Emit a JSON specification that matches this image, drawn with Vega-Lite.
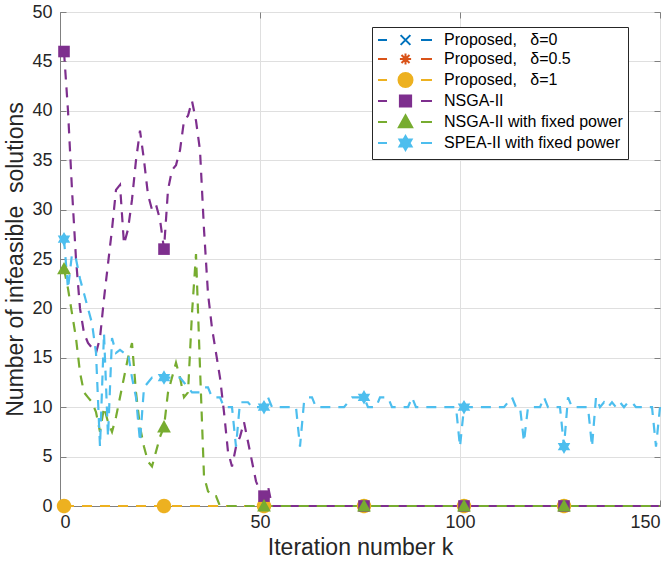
{
  "$schema": "https://vega.github.io/schema/vega-lite/v6.json",
  "width": 600,
  "height": 494,
  "autosize": {"type": "none"},
  "padding": {"left": 60, "top": 12, "right": 10, "bottom": 60},
  "background": "#ffffff",
  "config": {
    "view": {"stroke": "#808080", "strokeWidth": 1},
    "axis": {"labelFont": "Liberation Sans", "titleFont": "Liberation Sans", "labelColor": "#262626", "titleColor": "#262626", "titleFontWeight": "normal", "domainColor": "#808080", "tickColor": "#808080", "gridColor": "#dfdfdf", "gridWidth": 1}
  },
  "datasets": {
    "d": [
      {"s":"P0","k":1,"v":0},{"s":"P0","k":26,"v":0},{"s":"P0","k":51,"v":0},{"s":"P0","k":76,"v":0},{"s":"P0","k":101,"v":0},{"s":"P0","k":126,"v":0},{"s":"P0","k":150,"v":0},
      {"s":"P05","k":1,"v":0},{"s":"P05","k":26,"v":0},{"s":"P05","k":51,"v":0},{"s":"P05","k":76,"v":0},{"s":"P05","k":101,"v":0},{"s":"P05","k":126,"v":0},{"s":"P05","k":150,"v":0},
      {"s":"P1","k":1,"v":0},{"s":"P1","k":26,"v":0},{"s":"P1","k":51,"v":0},{"s":"P1","k":76,"v":0},{"s":"P1","k":101,"v":0},{"s":"P1","k":126,"v":0},{"s":"P1","k":150,"v":0},
      {"s":"N","k":1,"v":46},{"s":"N","k":2,"v":40},{"s":"N","k":3,"v":32},{"s":"N","k":4,"v":25},{"s":"N","k":5,"v":20},{"s":"N","k":6,"v":17.5},{"s":"N","k":7,"v":16.5},{"s":"N","k":8,"v":16},{"s":"N","k":9,"v":15.5},{"s":"N","k":10,"v":17},
      {"s":"N","k":11,"v":21},{"s":"N","k":12,"v":24.5},{"s":"N","k":13,"v":28},{"s":"N","k":14,"v":32},{"s":"N","k":15,"v":32.5},{"s":"N","k":16,"v":26.5},{"s":"N","k":17,"v":28},{"s":"N","k":18,"v":31},{"s":"N","k":19,"v":35},{"s":"N","k":20,"v":38},
      {"s":"N","k":21,"v":35},{"s":"N","k":22,"v":31.5},{"s":"N","k":23,"v":30},{"s":"N","k":24,"v":30.5},{"s":"N","k":25,"v":29},{"s":"N","k":26,"v":26},{"s":"N","k":27,"v":32},{"s":"N","k":28,"v":34},{"s":"N","k":29,"v":34.5},{"s":"N","k":30,"v":36},
      {"s":"N","k":31,"v":39},{"s":"N","k":32,"v":39.5},{"s":"N","k":33,"v":41},{"s":"N","k":34,"v":39},{"s":"N","k":35,"v":36},{"s":"N","k":36,"v":28},{"s":"N","k":37,"v":21.5},{"s":"N","k":38,"v":18},{"s":"N","k":39,"v":15.5},{"s":"N","k":40,"v":13},
      {"s":"N","k":41,"v":9.5},{"s":"N","k":42,"v":5.5},{"s":"N","k":43,"v":4},{"s":"N","k":44,"v":6},{"s":"N","k":45,"v":7},{"s":"N","k":46,"v":8.5},{"s":"N","k":47,"v":6.5},{"s":"N","k":48,"v":4.5},{"s":"N","k":49,"v":2.5},{"s":"N","k":50,"v":1.5},
      {"s":"N","k":51,"v":1},{"s":"N","k":52,"v":2},{"s":"N","k":53,"v":0},{"s":"N","k":76,"v":0},{"s":"N","k":101,"v":0},{"s":"N","k":126,"v":0},{"s":"N","k":150,"v":0},
      {"s":"NF","k":1,"v":24},{"s":"NF","k":2,"v":22},{"s":"NF","k":3,"v":19.5},{"s":"NF","k":4,"v":17},{"s":"NF","k":5,"v":13.5},{"s":"NF","k":6,"v":11.5},{"s":"NF","k":7,"v":11},{"s":"NF","k":8,"v":10.5},{"s":"NF","k":9,"v":9.5},{"s":"NF","k":10,"v":7.5},
      {"s":"NF","k":11,"v":10},{"s":"NF","k":12,"v":8.5},{"s":"NF","k":13,"v":7.5},{"s":"NF","k":14,"v":9},{"s":"NF","k":15,"v":11},{"s":"NF","k":16,"v":13},{"s":"NF","k":17,"v":15},{"s":"NF","k":18,"v":16.5},{"s":"NF","k":19,"v":11.5},{"s":"NF","k":20,"v":8},
      {"s":"NF","k":21,"v":6},{"s":"NF","k":22,"v":4.5},{"s":"NF","k":23,"v":4},{"s":"NF","k":24,"v":5.5},{"s":"NF","k":25,"v":7},{"s":"NF","k":26,"v":8},{"s":"NF","k":27,"v":11.5},{"s":"NF","k":28,"v":13},{"s":"NF","k":29,"v":14.5},{"s":"NF","k":30,"v":13},
      {"s":"NF","k":31,"v":11},{"s":"NF","k":32,"v":11.5},{"s":"NF","k":33,"v":19.5},{"s":"NF","k":34,"v":25.5},{"s":"NF","k":35,"v":14},{"s":"NF","k":36,"v":3},{"s":"NF","k":37,"v":1.5},{"s":"NF","k":38,"v":1},{"s":"NF","k":39,"v":1},{"s":"NF","k":40,"v":0},
      {"s":"NF","k":51,"v":0},{"s":"NF","k":76,"v":0},{"s":"NF","k":101,"v":0},{"s":"NF","k":126,"v":0},{"s":"NF","k":150,"v":0},
      {"s":"S","k":1,"v":27},{"s":"S","k":2,"v":22},{"s":"S","k":3,"v":25.5},{"s":"S","k":4,"v":25},{"s":"S","k":5,"v":23},{"s":"S","k":6,"v":21.5},{"s":"S","k":7,"v":20},{"s":"S","k":8,"v":18.5},{"s":"S","k":9,"v":15.5},{"s":"S","k":10,"v":6},
      {"s":"S","k":11,"v":17.5},{"s":"S","k":12,"v":7},{"s":"S","k":13,"v":17},{"s":"S","k":14,"v":15.5},{"s":"S","k":15,"v":15.8},{"s":"S","k":16,"v":15.5},{"s":"S","k":17,"v":15.5},{"s":"S","k":18,"v":13},{"s":"S","k":19,"v":11},{"s":"S","k":20,"v":6.5},
      {"s":"S","k":21,"v":12},{"s":"S","k":22,"v":12.5},{"s":"S","k":23,"v":13},{"s":"S","k":24,"v":13},{"s":"S","k":25,"v":13},{"s":"S","k":26,"v":13},{"s":"S","k":27,"v":13},{"s":"S","k":28,"v":13},{"s":"S","k":29,"v":13},{"s":"S","k":30,"v":13},
      {"s":"S","k":31,"v":12.5},{"s":"S","k":32,"v":12},{"s":"S","k":33,"v":11.5},{"s":"S","k":34,"v":11.5},{"s":"S","k":35,"v":11.5},{"s":"S","k":36,"v":12},{"s":"S","k":37,"v":12},{"s":"S","k":38,"v":11},{"s":"S","k":39,"v":11},{"s":"S","k":40,"v":11},
      {"s":"S","k":41,"v":10},{"s":"S","k":42,"v":10},{"s":"S","k":43,"v":10},{"s":"S","k":44,"v":6},{"s":"S","k":45,"v":10.5},{"s":"S","k":46,"v":10.5},{"s":"S","k":47,"v":10.5},{"s":"S","k":48,"v":10},{"s":"S","k":49,"v":10},{"s":"S","k":50,"v":10},
      {"s":"S","k":51,"v":10},{"s":"S","k":52,"v":11},{"s":"S","k":53,"v":10},{"s":"S","k":54,"v":10},{"s":"S","k":55,"v":10},{"s":"S","k":56,"v":10},{"s":"S","k":57,"v":10},{"s":"S","k":58,"v":10},{"s":"S","k":59,"v":10},{"s":"S","k":60,"v":6},
      {"s":"S","k":61,"v":10.5},{"s":"S","k":62,"v":11},{"s":"S","k":63,"v":11},{"s":"S","k":64,"v":10},{"s":"S","k":65,"v":10},{"s":"S","k":66,"v":10},{"s":"S","k":67,"v":10},{"s":"S","k":68,"v":10},{"s":"S","k":69,"v":10},{"s":"S","k":70,"v":10},
      {"s":"S","k":71,"v":10},{"s":"S","k":72,"v":10.5},{"s":"S","k":73,"v":11},{"s":"S","k":74,"v":11},{"s":"S","k":75,"v":11},{"s":"S","k":76,"v":11},{"s":"S","k":77,"v":10},{"s":"S","k":78,"v":10},{"s":"S","k":79,"v":10},{"s":"S","k":80,"v":11},
      {"s":"S","k":81,"v":11},{"s":"S","k":82,"v":11},{"s":"S","k":83,"v":10},{"s":"S","k":84,"v":10},{"s":"S","k":85,"v":10},{"s":"S","k":86,"v":10},{"s":"S","k":87,"v":10},{"s":"S","k":88,"v":11},{"s":"S","k":89,"v":10},{"s":"S","k":90,"v":10},
      {"s":"S","k":91,"v":10},{"s":"S","k":92,"v":10},{"s":"S","k":93,"v":10},{"s":"S","k":94,"v":10},{"s":"S","k":95,"v":10},{"s":"S","k":96,"v":10},{"s":"S","k":97,"v":10},{"s":"S","k":98,"v":10},{"s":"S","k":99,"v":10},{"s":"S","k":100,"v":6},
      {"s":"S","k":101,"v":10},{"s":"S","k":102,"v":10},{"s":"S","k":103,"v":10},{"s":"S","k":104,"v":10},{"s":"S","k":105,"v":10},{"s":"S","k":106,"v":10},{"s":"S","k":107,"v":10},{"s":"S","k":108,"v":10},{"s":"S","k":109,"v":10},{"s":"S","k":110,"v":10},
      {"s":"S","k":111,"v":10},{"s":"S","k":112,"v":10.5},{"s":"S","k":113,"v":11},{"s":"S","k":114,"v":10},{"s":"S","k":115,"v":10},{"s":"S","k":116,"v":6.5},{"s":"S","k":117,"v":10},{"s":"S","k":118,"v":10},{"s":"S","k":119,"v":10},{"s":"S","k":120,"v":10},
      {"s":"S","k":121,"v":11},{"s":"S","k":122,"v":10},{"s":"S","k":123,"v":10},{"s":"S","k":124,"v":10},{"s":"S","k":125,"v":10},{"s":"S","k":126,"v":6},{"s":"S","k":127,"v":11},{"s":"S","k":128,"v":10},{"s":"S","k":129,"v":10},{"s":"S","k":130,"v":10},
      {"s":"S","k":131,"v":10},{"s":"S","k":132,"v":10},{"s":"S","k":133,"v":6},{"s":"S","k":134,"v":11},{"s":"S","k":135,"v":10},{"s":"S","k":136,"v":10.5},{"s":"S","k":137,"v":10},{"s":"S","k":138,"v":10.5},{"s":"S","k":139,"v":10},{"s":"S","k":140,"v":10.5},
      {"s":"S","k":141,"v":10},{"s":"S","k":142,"v":10.5},{"s":"S","k":143,"v":10.5},{"s":"S","k":144,"v":10},{"s":"S","k":145,"v":10},{"s":"S","k":146,"v":10},{"s":"S","k":147,"v":10},{"s":"S","k":148,"v":10},{"s":"S","k":149,"v":6},{"s":"S","k":150,"v":10}
    ]
  },
  "data": {"name": "d"},
  "resolve": {"axis": {"x": "independent", "y": "independent"}, "scale": {"shape": "independent"}, "legend": {"color": "independent", "shape": "independent", "stroke": "independent"}},
  "layer": [
    {
      "mark": {"type": "line", "strokeWidth": 2.2, "strokeDash": [10, 8]},
      "encoding": {
        "x": {"field": "k", "type": "quantitative", "scale": {"domain": [0, 150], "nice": false, "zero": false},
              "axis": {"values": [0, 50, 100, 150], "grid": true, "ticks": true, "tickSize": -6, "labelFontSize": 18, "labelPadding": 13, "title": "Iteration number k", "titleFontSize": 23, "titlePadding": 5}},
        "y": {"field": "v", "type": "quantitative", "scale": {"domain": [0, 50], "nice": false},
              "axis": {"values": [0, 5, 10, 15, 20, 25, 30, 35, 40, 45, 50], "grid": true, "ticks": true, "tickSize": -6, "labelFontSize": 18, "labelPadding": 14, "title": "Number of infeasible\u00a0 solutions", "titleFontSize": 23, "titlePadding": 4}},
        "color": {"field": "s", "type": "nominal",
                  "scale": {"domain": ["P0", "P05", "P1", "N", "NF", "S"], "range": ["#0072BD", "#D95319", "#EDB120", "#7E2F8E", "#77AC30", "#4DBEEE"]},
                  "legend": null}
      }
    },
    {
      "transform": [{"filter": "indexof([1, 26, 51, 76, 101, 126], datum.k) >= 0"}],
      "mark": {"type": "point", "filled": true, "opacity": 1, "size": 210},
      "encoding": {
        "x": {"field": "k", "type": "quantitative",
              "axis": {"orient": "top", "values": [0, 50, 100, 150], "labels": false, "grid": false, "domain": false, "ticks": true, "tickSize": -6, "title": null}},
        "y": {"field": "v", "type": "quantitative",
              "axis": {"orient": "right", "values": [0, 5, 10, 15, 20, 25, 30, 35, 40, 45, 50], "labels": false, "grid": false, "domain": false, "ticks": true, "tickSize": -6, "title": null}},
        "color": {"field": "s", "type": "nominal", "legend": null},
        "shape": {"field": "s", "type": "nominal", "legend": null,
                  "scale": {"domain": ["P0", "P05", "P1", "N", "NF", "S"],
                            "range": ["M-0.7,-0.7L0.7,0.7M-0.7,0.7L0.7,-0.7", "M0,-0.8V0.8M-0.8,0H0.8M-0.57,-0.57L0.57,0.57M-0.57,0.57L0.57,-0.57", "M1,0A1,1,0,1,1,-1,0A1,1,0,1,1,1,0Z", "M-0.8,-0.8H0.8V0.8H-0.8Z", "M0,-0.95L0.95,0.75H-0.95Z", "M0,-1L0.289,-0.5L0.866,-0.5L0.577,0L0.866,0.5L0.289,0.5L0,1L-0.289,0.5L-0.866,0.5L-0.577,0L-0.866,-0.5L-0.289,-0.5Z"]}}
      }
    },
    {
      "transform": [{"filter": "datum.k < 0"}],
      "mark": {"type": "point", "filled": true, "opacity": 1, "size": 196, "strokeWidth": 2},
      "encoding": {
        "color": {"field": "s", "type": "nominal",
                  "legend": {
                    "orient": "none", "legendX": 312, "legendY": 15, "title": null, "direction": "vertical",
                    "padding": 5, "rowPadding": 0, "symbolSize": 196, "symbolStrokeWidth": 2, "symbolOpacity": 1,
                    "labelFont": "Liberation Sans", "labelFontSize": 16, "labelColor": "#000000", "labelOffset": 51, "labelLimit": 400,
                    "strokeColor": "#262626", "fillColor": "#ffffff",
                    "labelExpr": "(datum.value==='P0'?'Proposed,\u00a0\u00a0\u00a0δ=0':datum.value==='P05'?'Proposed,\u00a0\u00a0\u00a0δ=0.5':datum.value==='P1'?'Proposed,\u00a0\u00a0\u00a0δ=1':datum.value==='N'?'NSGA-II':datum.value==='NF'?'NSGA-II with fixed power':'SPEA-II with fixed power')+'\u00a0\u00a0\u00a0\u00a0\u00a0\u00a0\u00a0\u00a0\u00a0\u00a0'"
                  }},
        "stroke": {"field": "s", "type": "nominal",
                   "scale": {"domain": ["P0", "P05", "P1", "N", "NF", "S"], "range": ["#0072BD", "#D95319", "#EDB120", "#7E2F8E", "#77AC30", "#4DBEEE"]}},
        "shape": {"field": "s", "type": "nominal",
                  "scale": {"domain": ["P0", "P05", "P1", "N", "NF", "S"],
                            "range": ["M-1,0H0.29M5.14,0H6.71M2.23,-0.7L3.63,0.7M2.23,0.7L3.63,-0.7", "M-1,0H0.29M5.14,0H6.71M2.93,-0.8V0.8M2.13,0H3.73M2.36,-0.57L3.5,0.57M2.36,0.57L3.5,-0.57", "M-1,0H0.29M5.14,0H6.71M3.93,0A1,1,0,1,1,1.93,0A1,1,0,1,1,3.93,0Z", "M-1,0H0.29M5.14,0H6.71M2.13,-0.8H3.73V0.8H2.13Z", "M-1,0H0.29M5.14,0H6.71M2.93,-0.95L3.88,0.75H1.98Z", "M-1,0H0.29M5.14,0H6.71M2.93,-1L3.219,-0.5L3.796,-0.5L3.507,0L3.796,0.5L3.219,0.5L2.93,1L2.641,0.5L2.064,0.5L2.353,0L2.064,-0.5L2.641,-0.5Z"]}}
      }
    }
  ]
}
